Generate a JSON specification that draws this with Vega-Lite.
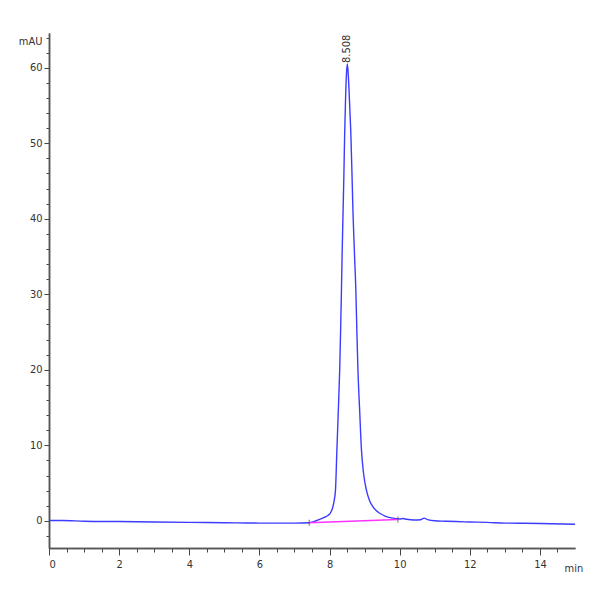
{
  "$schema": "https://vega.github.io/schema/vega-lite/v6.json",
  "width": 526,
  "height": 515,
  "autosize": "none",
  "padding": {"left": 49, "top": 33, "right": 25, "bottom": 52},
  "config": {
    "view": {"stroke": null},
    "font": "'Liberation Sans Narrow', 'DejaVu Sans Condensed', 'Liberation Sans', sans-serif",
    "axis": {
      "domainColor": "#555555",
      "domainWidth": 1.5,
      "tickColor": "#444444",
      "tickWidth": 1,
      "grid": false,
      "labelFont": "'Liberation Sans Narrow', 'DejaVu Sans Condensed', 'Liberation Sans', sans-serif",
      "labelFontSize": 11,
      "labelColor": "#333333",
      "titleFont": "'Liberation Sans Narrow', 'DejaVu Sans Condensed', 'Liberation Sans', sans-serif",
      "titleFontSize": 11,
      "titleFontWeight": "normal",
      "titleColor": "#333333"
    }
  },
  "datasets": {
    "signal": [
      {"time": 0.0, "mau": 0.05}, {"time": 0.4, "mau": 0.05}, {"time": 1.0, "mau": -0.05},
      {"time": 2.0, "mau": -0.1}, {"time": 3.0, "mau": -0.15}, {"time": 4.0, "mau": -0.2},
      {"time": 5.0, "mau": -0.25}, {"time": 6.0, "mau": -0.3}, {"time": 7.0, "mau": -0.3},
      {"time": 7.42, "mau": -0.25}, {"time": 7.55, "mau": -0.1}, {"time": 7.7, "mau": 0.15},
      {"time": 7.85, "mau": 0.45}, {"time": 7.95, "mau": 0.7}, {"time": 8.02, "mau": 1.0},
      {"time": 8.08, "mau": 1.6}, {"time": 8.13, "mau": 2.6}, {"time": 8.17, "mau": 4.1},
      {"time": 8.21, "mau": 9.4}, {"time": 8.25, "mau": 14.5}, {"time": 8.29, "mau": 20},
      {"time": 8.315, "mau": 25}, {"time": 8.34, "mau": 30.6}, {"time": 8.36, "mau": 35.5},
      {"time": 8.385, "mau": 40.7}, {"time": 8.41, "mau": 46}, {"time": 8.43, "mau": 50.9},
      {"time": 8.455, "mau": 55.5}, {"time": 8.48, "mau": 59}, {"time": 8.508, "mau": 60.5},
      {"time": 8.535, "mau": 59}, {"time": 8.57, "mau": 55.5}, {"time": 8.61, "mau": 50.9},
      {"time": 8.64, "mau": 46}, {"time": 8.67, "mau": 40.7}, {"time": 8.71, "mau": 35.5},
      {"time": 8.75, "mau": 30.6}, {"time": 8.78, "mau": 25}, {"time": 8.81, "mau": 20},
      {"time": 8.86, "mau": 14.5}, {"time": 8.91, "mau": 9.4}, {"time": 8.97, "mau": 6.3},
      {"time": 9.05, "mau": 4.1}, {"time": 9.14, "mau": 2.7}, {"time": 9.24, "mau": 1.85},
      {"time": 9.33, "mau": 1.35}, {"time": 9.43, "mau": 1.0}, {"time": 9.6, "mau": 0.6},
      {"time": 9.8, "mau": 0.35}, {"time": 10.0, "mau": 0.25}, {"time": 10.1, "mau": 0.3},
      {"time": 10.2, "mau": 0.2}, {"time": 10.4, "mau": 0.1}, {"time": 10.6, "mau": 0.15},
      {"time": 10.7, "mau": 0.35}, {"time": 10.8, "mau": 0.15}, {"time": 11.0, "mau": 0.0},
      {"time": 11.3, "mau": -0.05}, {"time": 11.6, "mau": -0.1}, {"time": 12.0, "mau": -0.15},
      {"time": 12.5, "mau": -0.2}, {"time": 13.0, "mau": -0.3}, {"time": 14.0, "mau": -0.35},
      {"time": 15.0, "mau": -0.45}
    ],
    "baseline": [
      {"time": 7.42, "mau": -0.26},
      {"time": 9.95, "mau": 0.18}
    ],
    "peaks": [
      {"time": 8.508, "mau": 60.5, "label": "8.508"}
    ]
  },
  "layer": [
    {
      "data": {"name": "signal"},
      "mark": {"type": "line", "color": "#3c3cff", "strokeWidth": 1.4, "interpolate": "monotone"},
      "encoding": {
        "x": {
          "field": "time", "type": "quantitative",
          "scale": {"domain": [0, 15], "nice": false, "zero": false},
          "axis": {
            "orient": "bottom", "title": null, "labels": false, "tickSize": 4,
            "values": [0, 0.5, 1, 1.5, 2, 2.5, 3, 3.5, 4, 4.5, 5, 5.5, 6, 6.5, 7, 7.5, 8, 8.5, 9, 9.5, 10, 10.5, 11, 11.5, 12, 12.5, 13, 13.5, 14, 14.5]
          }
        },
        "y": {
          "field": "mau", "type": "quantitative",
          "scale": {"domain": [-3.6, 64.6], "nice": false, "zero": false},
          "axis": {
            "orient": "left", "title": null, "labels": false, "tickSize": 3,
            "values": [-2, 0, 2, 4, 6, 8, 10, 12, 14, 16, 18, 20, 22, 24, 26, 28, 30, 32, 34, 36, 38, 40, 42, 44, 46, 48, 50, 52, 54, 56, 58, 60, 62, 64]
          }
        }
      }
    },
    {
      "data": {"name": "baseline"},
      "mark": {"type": "line", "color": "#ff33ff", "strokeWidth": 1.5},
      "encoding": {
        "x": {
          "field": "time", "type": "quantitative",
          "scale": {"domain": [0, 15], "nice": false, "zero": false},
          "axis": {
            "orient": "bottom", "tickSize": 7, "labelPadding": 3,
            "values": [0, 2, 4, 6, 8, 10, 12, 14],
            "title": "min", "titleX": 515, "titleY": 20,
            "titleAlign": "left", "titleBaseline": "middle", "titleAngle": 0
          }
        },
        "y": {
          "field": "mau", "type": "quantitative",
          "scale": {"domain": [-3.6, 64.6], "nice": false, "zero": false},
          "axis": {
            "orient": "left", "tickSize": 5, "labelPadding": 2,
            "values": [0, 10, 20, 30, 40, 50, 60],
            "title": "mAU", "titleX": -7, "titleY": 8.5,
            "titleAlign": "right", "titleBaseline": "middle", "titleAngle": 0
          }
        }
      }
    },
    {
      "data": {"name": "baseline"},
      "mark": {"type": "tick", "orient": "vertical", "color": "#333333", "size": 6, "thickness": 1},
      "encoding": {
        "x": {"field": "time", "type": "quantitative", "scale": {"domain": [0, 15], "nice": false, "zero": false}, "axis": null},
        "y": {"field": "mau", "type": "quantitative", "scale": {"domain": [-3.6, 64.6], "nice": false, "zero": false}, "axis": null}
      }
    },
    {
      "data": {"name": "peaks"},
      "mark": {"type": "text", "angle": 270, "align": "left", "baseline": "middle", "dx": 1, "font": "'Liberation Sans Narrow', 'DejaVu Sans Condensed', 'Liberation Sans', sans-serif", "fontSize": 11, "color": "#333333"},
      "encoding": {
        "x": {"field": "time", "type": "quantitative", "scale": {"domain": [0, 15], "nice": false, "zero": false}, "axis": null},
        "y": {"field": "mau", "type": "quantitative", "scale": {"domain": [-3.6, 64.6], "nice": false, "zero": false}, "axis": null},
        "text": {"field": "label"}
      }
    }
  ],
  "resolve": {"axis": {"x": "independent", "y": "independent"}}
}
